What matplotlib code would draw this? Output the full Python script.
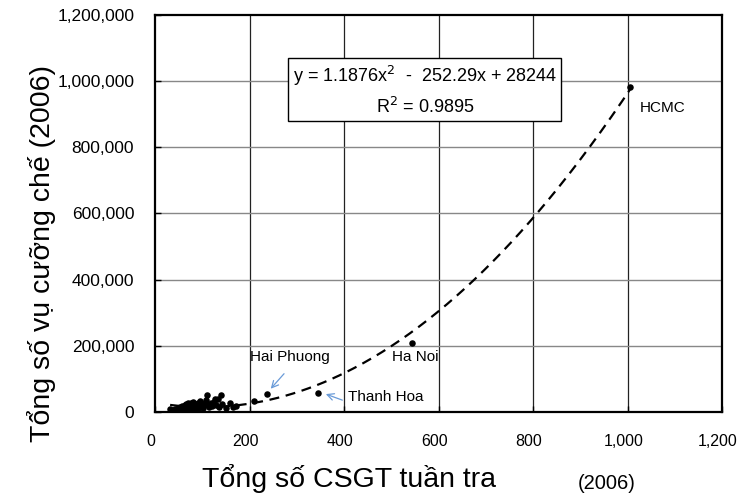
import matplotlib
matplotlib.use("Agg")
import matplotlib.pyplot as plt
import matplotlib.transforms as mtransforms
import numpy as np
from matplotlib.ticker import FuncFormatter

plt.rcParams['font.family'] = ['Liberation Sans', 'DejaVu Sans']

# Data
cluster_x = [32, 38, 42, 45, 48, 50, 52, 55, 57, 58, 60, 62, 63, 65, 66, 68, 70, 70, 72, 74,
             75, 76, 78, 80, 80, 82, 84, 85, 86, 88, 90, 92, 94, 95, 96, 98, 100, 102, 105, 108,
             110, 112, 115, 118, 120, 125, 128, 130, 133, 135, 140, 142, 150, 158, 165, 172]
cluster_y = [8, 5, 10, 3, 12, 6, 15, 2, 9, 18, 4, 12, 20, 7, 24, 14, 3, 26, 17, 10,
             22, 28, 8, 19, 30, 13, 25, 6, 20, 16, 28, 11, 22, 33, 15, 25, 20, 12, 28, 35,
             51, 22, 15, 26, 18, 30, 40, 22, 39, 14, 51, 25, 12, 28, 16, 18]
cluster_y = [v * 1000 for v in cluster_y]

named = ["", "Hai Phuong", "Thanh Hoa", "Ha Noi", "HCMC"]
named_x = [209, 237, 345, 544, 1005]
named_y = [33000, 55000, 57000, 208000, 982000]

coef_a, coef_b, coef_c = 1.1876, -252.29, 28244
r2 = 0.9895

x_ticks = [0, 200, 400, 600, 800, 1000, 1200]
y_ticks = [0, 200000, 400000, 600000, 800000, 1000000, 1200000]

fig = plt.figure(figsize=(7.41, 4.98), dpi=100)
ax = fig.add_axes([155/741, 1 - 412/498, (722-155)/741, (412-15)/498])

all_x = np.array(cluster_x + named_x, dtype=float)
all_y = np.array(cluster_y + named_y, dtype=float)
ax.scatter(all_x, all_y, s=22, color='black', zorder=3, linewidths=0)

xs = np.linspace(all_x.min(), all_x.max(), 300)
ys = coef_a * xs**2 + coef_b * xs + coef_c
ax.plot(xs, ys, color='black', lw=1.6, linestyle=(0, (4.5, 3)), zorder=2)

ax.set_xlim(0, 1200)
ax.set_ylim(0, 1200000)
ax.set_xticks(x_ticks)
ax.set_yticks(y_ticks)
fmt = FuncFormatter(lambda v, p: f"{v:,.0f}")
ax.xaxis.set_major_formatter(fmt)
ax.yaxis.set_major_formatter(fmt)
ax.tick_params(axis='both', direction='in', length=4, width=1)
ax.tick_params(axis='y', pad=15, labelsize=12.5)
ax.tick_params(axis='x', pad=16, labelsize=11.5)
offset = mtransforms.ScaledTranslation(-4/100, 0, fig.dpi_scale_trans)
for lab in ax.get_xticklabels():
    lab.set_transform(lab.get_transform() + offset)
for s in ax.spines.values():
    s.set_linewidth(1.6)
    s.set_color('black')

for xv in x_ticks[1:-1]:
    ax.axvline(xv, color='#222222', lw=0.9, zorder=1)
for yv in y_ticks[1:-1]:
    ax.axhline(yv, color='#888888', lw=1.0, zorder=1)

eq = f"y = {coef_a}x$^2$  -  {abs(coef_b)}x + {coef_c}\nR$^2$ = {r2}"
ax.text(571, 972000, eq, ha='center', va='center', fontsize=13, linespacing=1.5,
        bbox=dict(boxstyle='square,pad=0.25', fc='white', ec='black', lw=1.0), zorder=5)

lab_fs = 11
ax.text(201, 166000, named[1], fontsize=lab_fs, va='center', ha='left')
ax.text(502, 166000, named[3], fontsize=lab_fs, va='center', ha='left')
ax.text(1026, 919000, named[4], fontsize=lab_fs, va='center', ha='left')
ax.text(408, 45000, named[2], fontsize=lab_fs, va='center', ha='left')

arrow_c = '#6a9bd8'
ax.annotate('', xy=(241, 64000), xytext=(277, 122000),
            arrowprops=dict(arrowstyle='->', color=arrow_c, lw=0.9, mutation_scale=12))
ax.annotate('', xy=(356, 57000), xytext=(402, 33000),
            arrowprops=dict(arrowstyle='->', color=arrow_c, lw=0.9, mutation_scale=12))

fig.text(202/741, 1 - 487/498, "Tổng số CSGT tuần tra", fontsize=20.5, ha='left', va='baseline')
fig.text(607/741, 1 - 489/498, "(2006)", fontsize=14.5, ha='center', va='baseline')
fig.text(42/741, 1 - 253/498, "Tổng số vụ cưỡng chế (2006)", fontsize=20.5, rotation=90,
         ha='center', va='center')

fig.savefig("out.png", dpi=100)
